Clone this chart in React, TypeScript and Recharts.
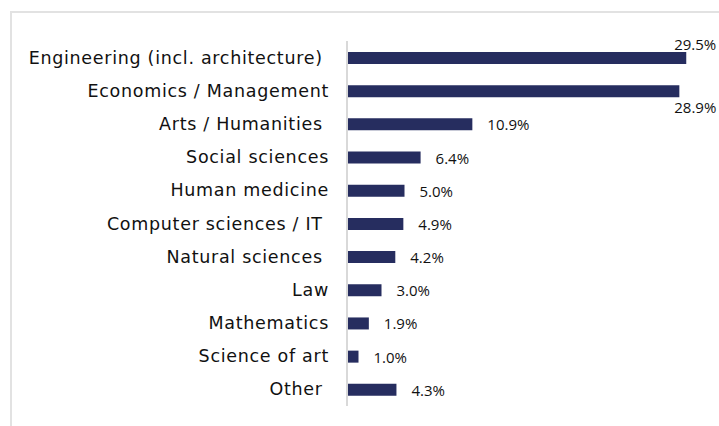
import { BarChart, Bar, XAxis, YAxis, LabelList } from 'recharts'

const fields = [
  'Engineering (incl. architecture) ',
  'Economics / Management',
  'Arts / Humanities ',
  'Social sciences',
  'Human medicine',
  'Computer sciences / IT ',
  'Natural sciences ',
  'Law',
  'Mathematics',
  'Science of art',
  'Other ',
]
const shares = [29.5, 28.9, 10.9, 6.4, 5.0, 4.9, 4.2, 3.0, 1.9, 1.0, 4.3]

const BAR = '#262d5f'
const LABEL_FONT = '"DejaVu Sans", sans-serif'
const VALUE_FONT = '"Open Sans", sans-serif'

const data = fields.map((name, i) => ({ name, value: shares[i] }))

function FieldTick({ x, y, payload }: any) {
  return (
    <text x={x - 10} y={y} textAnchor="end" dominantBaseline="central"
      fontSize={17.5} letterSpacing={0.7} fill="#111" fontFamily={LABEL_FONT} style={{ whiteSpace: 'pre' }}>
      {payload.value}
    </text>
  )
}

function ValueLabel({ x, y, width, height, value, index }: any) {
  const txt = `${Number(value).toFixed(1)}%`
  const common = { fontSize: 15, fill: '#111', fontFamily: VALUE_FONT }
  if (index === 0) {
    return <text x={x + width + 30} y={y - 2} textAnchor="end" {...common}>{txt}</text>
  }
  if (index === 1) {
    return <text x={x + width + 37} y={y + height + 16} textAnchor="end" {...common}>{txt}</text>
  }
  return (
    <text x={x + width + 15} y={y + height / 2} dominantBaseline="central" {...common}>{txt}</text>
  )
}

export default function App() {
  return (
    <div style={{ position: 'absolute', left: 0, top: 0, width: 719, height: 426, background: '#fff' }}>
      <div style={{
        position: 'absolute', left: 10, top: 11, width: 709, height: 415,
        borderTop: '2px solid #e2e2e2', borderLeft: '2px solid #e2e2e2',
      }} />
      <BarChart width={719} height={426} data={data} layout="vertical"
        margin={{ top: 41, right: 27, bottom: 20, left: 0 }} barCategoryGap={0}
        style={{ position: 'absolute', left: 0, top: 0 }}>
        <XAxis type="number" domain={[0, 30]} hide />
        <YAxis type="category" dataKey="name" width={347} axisLine={{ stroke: '#d9d9d9', strokeWidth: 2 }}
          tickLine={false} tick={<FieldTick />} interval={0} />
        <Bar dataKey="value" fill={BAR} barSize={12} isAnimationActive={false}>
          <LabelList dataKey="value" content={<ValueLabel />} />
        </Bar>
      </BarChart>
    </div>
  )
}
